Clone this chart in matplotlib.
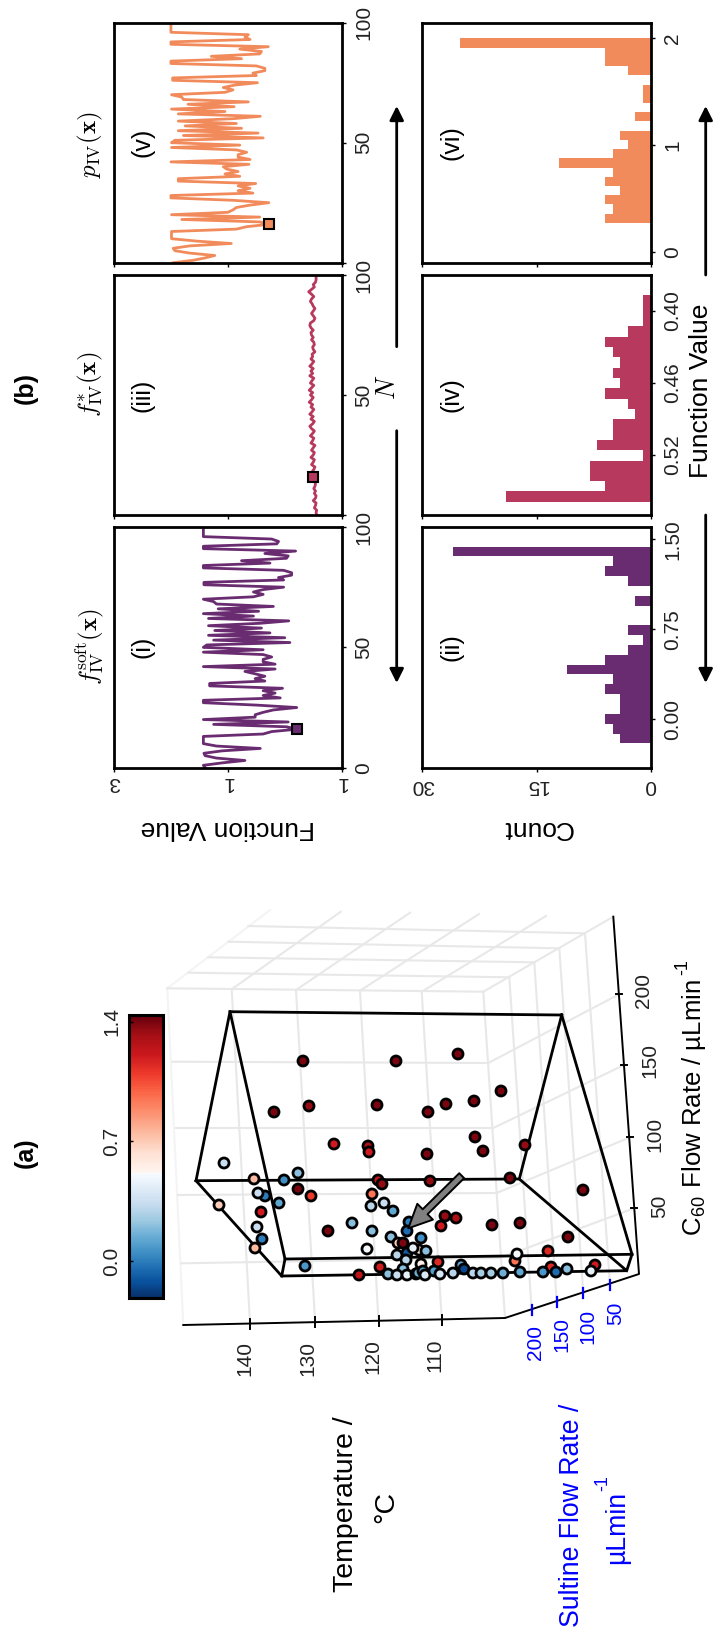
#!/usr/bin/env python
import numpy as np
import matplotlib
matplotlib.use("Agg")
import matplotlib.pyplot as plt
from matplotlib.colors import ListedColormap, Normalize
from matplotlib.cm import ScalarMappable

plt.rcParams['font.family'] = ['Liberation Sans', 'DejaVu Sans']
plt.rcParams['mathtext.fontset'] = 'cm'

W, H = 714, 1636

# traces, N = 0..99
f_soft = [1.40,1.43,1.10,0.70,1.20,1.40,1.42,1.10,0.43,1.20,1.43,1.43,1.43,1.43,0.38,0.23,-0.22,-0.03,1.25,-0.06,
          1.43,0.52,0.52,0.38,0.20,-0.21,0.49,1.43,1.43,0.08,0.38,0.17,0.38,0.04,1.32,1.32,0.35,0.52,0.35,0.52,
          0.70,0.17,1.43,0.17,0.38,0.38,0.23,0.38,1.43,0.38,1.43,1.37,-0.09,1.25,0.00,1.34,0.26,1.23,0.41,1.34,
          0.43,-0.07,1.34,0.55,1.43,0.46,1.17,0.20,1.20,1.25,1.43,0.55,0.38,0.55,0.38,0.02,1.42,1.42,0.02,0.11,
          -0.12,-0.12,0.02,1.43,1.43,0.26,0.76,-0.03,-0.06,0.35,-0.19,1.43,1.43,0.14,0.11,0.23,1.43,1.43,1.43,1.43]
f_star = [-0.56,-0.55,-0.56,-0.52,-0.54,-0.55,-0.50,-0.54,-0.55,-0.52,-0.54,-0.51,-0.53,-0.54,-0.52,-0.51,-0.50,-0.53,-0.48,-0.51,
          -0.53,-0.47,-0.50,-0.52,-0.46,-0.50,-0.52,-0.47,-0.50,-0.53,-0.46,-0.49,-0.51,-0.45,-0.49,-0.52,-0.47,-0.44,-0.49,-0.52,
          -0.46,-0.50,-0.44,-0.48,-0.51,-0.46,-0.49,-0.43,-0.47,-0.50,-0.45,-0.49,-0.43,-0.47,-0.51,-0.45,-0.48,-0.51,-0.44,-0.49,
          -0.46,-0.50,-0.44,-0.48,-0.51,-0.46,-0.49,-0.48,-0.53,-0.50,-0.49,-0.52,-0.51,-0.47,-0.50,-0.47,-0.46,-0.50,-0.46,-0.44,
          -0.45,-0.51,-0.53,-0.50,-0.47,-0.50,-0.53,-0.50,-0.48,-0.45,-0.47,-0.51,-0.47,-0.42,-0.47,-0.52,-0.50,-0.54,-0.55,-0.55]
p_iv = [1.96,1.61,1.40,1.23,1.67,1.93,1.96,1.67,0.94,1.55,1.99,1.99,1.99,1.99,0.85,0.67,0.28,0.44,1.81,0.44,
        1.99,1.00,0.91,0.85,0.61,0.28,0.91,2.00,2.00,0.56,0.82,0.61,0.82,0.51,1.87,1.87,0.79,1.05,0.82,1.02,
        1.08,0.63,2.00,0.61,0.82,0.82,0.67,0.85,1.99,0.79,1.99,1.93,0.38,1.78,0.47,1.87,0.76,1.75,0.85,1.87,
        0.91,0.43,1.87,1.05,1.99,0.89,1.70,0.64,1.78,1.81,1.99,1.05,0.91,1.08,0.88,0.48,1.97,1.97,0.50,0.56,
        0.35,0.35,0.50,2.00,2.00,0.76,1.29,0.44,0.41,0.79,0.29,2.00,2.00,0.61,0.70,0.64,2.00,2.00,2.00,2.00]
best_n = 16

# histograms, bottom bin first
counts_soft = [4,5,6,4,4,6,5,11,6,3,1,3,0,0,2,0,3,6,5,26]
counts_star = [19,6,8,8,1,7,5,5,2,3,6,4,5,4,5,6,3,1,1,1]
counts_p = [6,5,6,4,6,5,12,5,3,4,0,2,0,1,1,0,3,6,6,25]
range_soft = (-0.203, 1.44)
range_star = (-0.559, -0.387)
range_p = (0.27, 2.0)

purple = '#6a2c70'
crimson = '#b73a5e'
orange = '#f28b5c'

# projected scatter, in picture coordinates, with the colour value
px = [303,396,458,501,474,446,428,377,309,274,
      334,368,369,427,475,483,525,510,430,378,382,
      298,284,254,298,311,279,265,258,372,371,384,393,409,407,
      445,456,441,492,520,261,257,262,255,352,328,372,391,421,398,403,
      367,397,407,419,426,413,406,438,305,380,359,388,403,397,407,416,
      421,418,423,425,434,440,453,461,464,473,481,491,503,520,
      515,517,548,551,543,556,567,595,591,568,583,224,219]
py = [1061,1061,1054,1091,1101,1104,1112,1105,1106,1112,
      1144,1146,1152,1154,1137,1151,1145,1178,1181,1180,1184,
      1173,1180,1179,1189,1196,1203,1196,1193,1194,1206,1203,1211,1222,1231,
      1216,1218,1226,1225,1223,1212,1227,1239,1248,1223,1231,1231,1237,1238,1243,1243,
      1249,1255,1253,1250,1251,1248,1260,1262,1266,1267,1275,1274,1269,1275,1275,1274,
      1264,1273,1271,1275,1271,1274,1273,1265,1269,1273,1273,1273,1273,1272,
      1261,1254,1251,1267,1272,1272,1269,1265,1271,1237,1190,1163,1205]
pv = [1.4,1.4,1.4,1.4,1.4,1.4,1.4,1.4,1.35,1.4,
      1.2,1.3,1.2,1.4,1.4,1.4,1.35,1.4,1.35,1.25,1.35,
      0.2,0.05,0.75,1.4,1.1,0.12,0.0,0.35,0.95,0.3,0.35,0.12,0.0,-0.05,
      1.35,1.3,1.2,1.4,1.4,1.2,0.35,0.0,0.75,0.2,1.4,0.2,0.2,0.05,0.7,1.4,
      0.5,0.3,-0.1,0.6,0.2,0.45,0.3,1.15,0.08,1.2,1.25,0.2,0.2,0.35,0.45,0.3,
      0.55,0.15,0.1,0.4,0.1,0.4,0.3,0.12,-0.15,0.3,0.25,0.25,0.15,0.12,
      0.95,0.5,1.15,1.15,0.08,-0.05,0.2,1.2,0.45,1.4,1.4,0.35,0.7]

# box drawn round the search space
box_lines = [[(561.7,1015),(230,1011.7),(196,1180.7),(519.3,1179),(561.7,1015)],
             [(230,1011.7),(285,1259),(632,1254.3),(561.7,1015)],
             [(196,1180.7),(281.7,1276),(626.7,1270.7),(519.3,1179)],
             [(285,1259),(281.7,1276)],
             [(632,1254.3),(626.7,1270.7)]]

# pane grid, picture coordinates
grid_faint = [[(167.3,988.3),(183.3,1325)], [(167.3,988.3),(270,910)]]
grid_lines = [[(167.3,988.3),(483.3,991.7)], [(188.3,972.7),(509.3,977.3)], [(208.3,957.3),(534.3,962.3)],
              [(228.3,941.7),(559.3,948.3)], [(248.3,926),(585,933.3)],
              [(231.7,989.3),(340.7,911.7)], [(296,990),(410,912.7)], [(360,990.7),(479,914)],
              [(421.7,991.7),(546,916)], [(483.3,991.7),(613.3,916.7)],
              [(231.7,989.3),(250,1323)], [(296,990),(315,1320)], [(360,990.7),(378.3,1318)],
              [(421.7,991.7),(441.7,1318)], [(483.3,991.7),(505,1318)],
              [(172.3,1061.7),(488.3,1063)], [(176,1128.3),(492.7,1128.3)], [(178,1195),(496.7,1193)], [(181.7,1263.3),(500,1258)],
              [(488.3,1063),(619,994.3)], [(492.7,1128.3),(624,1065)], [(496.7,1193),(630,1137.3)], [(500,1258),(634,1208.3)],
              [(509.3,977.3),(531.7,1310)], [(534.3,962.3),(556.7,1301.7)], [(559.3,948.3),(583.3,1293.3)], [(585,933.3),(610,1285)]]
axis_line = [(183.3,1325),(505,1318),(639,1274),(613.3,916.7)]

temp_ticks = [(250,1323.5,'140',245,1358), (315,1322,'130',308,1358), (378.7,1321,'120',372.7,1357), (442,1320,'110',435,1355)]
sultine_ticks = [(531.7,1310,'200',536,1343), (556.7,1301.7,'150',561.7,1335), (583.3,1293.3,'100',588,1326), (610,1285,'50',616,1313)]
c60_ticks = [(619,994.3,'200',644,990), (624,1065,'150',650,1061), (630,1137.3,'100',655,1134), (634,1208.3,'50',660,1206)]

fig = plt.figure(figsize=(W/100.0, H/100.0), dpi=100)

def axes_px(left, top, right, bottom):
    return fig.add_axes([left/W, 1-bottom/H, (right-left)/W, (bottom-top)/H])

# whole figure layer in picture coordinates
ax = fig.add_axes([0,0,1,1])
ax.set_xlim(0,W)
ax.set_ylim(H,0)
ax.axis('off')

for l in grid_faint:
    ax.plot(*zip(*l), color='#f4f4f4', lw=1.5, zorder=1)
for l in grid_lines:
    ax.plot(*zip(*l), color='#e8e8e8', lw=1.5, zorder=1)
ax.plot(*zip(*axis_line), color='k', lw=1.4, zorder=2)
for tx,ty,lab,lx,ly in temp_ticks:
    ax.plot([tx,tx],[ty-5,ty+5], color='k', lw=1.4, zorder=2)
    ax.text(lx,ly,lab,rotation=90,ha='center',va='center',fontsize=15,color='#222222')
for tx,ty,lab,lx,ly in sultine_ticks:
    ax.plot([tx,tx],[ty-5,ty+5], color='#0000ff', lw=1.6, zorder=2)
    ax.text(lx,ly,lab,rotation=90,ha='center',va='center',fontsize=15,color='#0000ff')
for tx,ty,lab,lx,ly in c60_ticks:
    ax.plot([tx-3,tx+3],[ty,ty], color='k', lw=1.4, zorder=2)
    ax.text(lx,ly,lab,rotation=90,ha='center',va='center',fontsize=15,color='#222222')
for l in box_lines:
    ax.plot(*zip(*l), color='k', lw=2, zorder=3, solid_joinstyle='miter')

# blue to white to red, as on the colour bar
vmin, vmax, vsplit = -0.217, 1.44, 0.52
n_blue = int(256*(vsplit-vmin)/(vmax-vmin))
cm = ListedColormap(np.vstack([plt.cm.Blues_r(np.linspace(0,1,n_blue)),
                               plt.cm.Reds(np.linspace(0,1,256-n_blue))]))
norm = Normalize(vmin,vmax)
ax.scatter(px, py, c=pv, cmap=cm, norm=norm, s=52, edgecolors='k', linewidths=2, zorder=4)

ax.annotate('', xy=(408.3,1228.3), xytext=(461.7,1175.7), zorder=5,
            arrowprops=dict(facecolor='#808080', edgecolor='k', width=5, headwidth=16, headlength=17, shrink=0, lw=1.4))

ax.text(26,1153,'(a)',rotation=90,ha='center',va='center',fontsize=18,fontweight='bold')
ax.text(26,388,'(b)',rotation=90,ha='center',va='center',fontsize=18,fontweight='bold')
ax.text(346,1504,'Temperature /',rotation=90,ha='center',va='center',fontsize=20.5)
ax.text(386,1507,'°C',rotation=90,ha='center',va='center',fontsize=20.5)
ax.text(571.7,1515,'Sultine Flow Rate /',rotation=90,ha='center',va='center',fontsize=19.2,color='#0000ff')
ax.text(617,1527,'µLmin',rotation=90,ha='center',va='center',fontsize=19.2,color='#0000ff')
ax.text(603,1483,'-1',rotation=90,ha='center',va='center',fontsize=13,color='#0000ff')
ax.text(694,1107.5,'C$_{\\mathregular{60}}$ Flow Rate / µLmin',rotation=90,ha='center',va='center',fontsize=18.5)
ax.text(683,967,'-1',rotation=90,ha='center',va='center',fontsize=13)

ax.text(228,828,'Function Value',rotation=180,ha='center',va='center',fontsize=19)
ax.text(537,828,'Count',rotation=180,ha='center',va='center',fontsize=19)
ax.text(701,391,'Function Value',rotation=90,ha='center',va='center',fontsize=19)
ax.text(388,387,'$N$',rotation=90,ha='center',va='center',fontsize=19)

for x0,y0,y1 in [(396.7,346.7,106),(396.7,430.7,683),(705.7,275,106),(705.7,515,683)]:
    ax.annotate('', xy=(x0,y1), xytext=(x0,y0),
                arrowprops=dict(arrowstyle='-|>,head_length=0.6,head_width=0.3', color='k', lw=2, shrinkA=0, shrinkB=0, mutation_scale=14))

# colour bar
cax = axes_px(129.3,1015,163.3,1298)
cb = fig.colorbar(ScalarMappable(norm=norm,cmap=cm), cax=cax)
cb.set_ticks([0.0,0.7,1.4])
cb.set_ticklabels(['0.0','0.7','1.4'])
cax.yaxis.set_ticks_position('left')
cax.tick_params(axis='y', direction='in', length=3, width=1, pad=6, labelsize=15, labelrotation=90)
for t in cax.get_yticklabels():
    t.set_va('center')
    t.set_color('#222222')
cb.outline.set_linewidth(2.2)

# panels of (b)
tops = [(527,767.7),(275,515),(22.7,262.7)]
traces = [f_soft,f_star,p_iv]
colors = [purple,crimson,orange]
names = ['(i)','(iii)','(v)']
titles = [r'$f^{\mathrm{soft}}_{\mathrm{IV}}(\mathbf{x})$', r'$f^{*}_{\mathrm{IV}}(\mathbf{x})$', r'$p_{\mathrm{IV}}(\mathbf{x})$']
title_y = [647,384,145]
hist_counts = [counts_soft,counts_star,counts_p]
hist_range = [range_soft,range_star,range_p]
hist_lim = [(-0.406,1.603),(-0.570,-0.370),(-0.103,2.147)]
hist_ticks = [[0.0,0.75,1.5],[-0.52,-0.46,-0.40],[0,1,2]]
hist_labels = [['0.00','0.75','1.50'],['0.52','0.46','0.40'],['0','1','2']]
hist_names = ['(ii)','(iv)','(vi)']

def style(a, bottom_pad):
    for s in a.spines.values():
        s.set_linewidth(2)
    a.yaxis.tick_right()
    a.tick_params(axis='both', length=3, width=1, labelsize=15, labelcolor='#222222')
    a.tick_params(axis='y', labelrotation=90, pad=6)
    a.tick_params(axis='x', pad=bottom_pad, labelrotation=180)
    for t in a.get_yticklabels():
        t.set_va('center')

for i in range(3):
    top,bottom = tops[i]
    a = axes_px(114,top,341.7,bottom)
    a.plot(traces[i], range(100), color=colors[i], lw=2)
    a.plot(traces[i][best_n], best_n, 's', color=colors[i], ms=7, mec='k', mew=1.5)
    a.set_xlim(3,-1)
    a.set_ylim(0,100)
    a.set_xticks([3,1,-1])
    a.set_yticks([0,50,100])
    if i == 0:
        a.set_xticklabels(['3','1','1'])
        a.set_yticklabels(['0','50','100'])
    else:
        a.set_xticklabels([])
        a.set_yticklabels(['','50','100'])
    style(a, 1)
    ax.text(143,(top+bottom)/2,names[i],rotation=90,ha='center',va='center',fontsize=18,zorder=10)
    ax.text(90,title_y[i],titles[i],rotation=90,ha='center',va='center',fontsize=18)

    h = axes_px(422.3,top,650.7,bottom)
    edges = np.linspace(hist_range[i][0],hist_range[i][1],21)
    h.barh(edges[:-1], hist_counts[i], height=edges[1]-edges[0], align='edge', color=colors[i])
    h.set_xlim(30,0)
    h.set_ylim(*hist_lim[i])
    h.set_xticks([30,15,0])
    if i == 0:
        h.set_xticklabels(['30','15','0'])
    else:
        h.set_xticklabels([])
    h.set_yticks(hist_ticks[i])
    h.set_yticklabels(hist_labels[i])
    style(h, 3)
    h.text(0.13,0.5,hist_names[i],rotation=90,ha='center',va='center',fontsize=18,transform=h.transAxes)

ax.set_zorder(5)
ax.patch.set_visible(False)

fig.savefig('out.png', dpi=100)
